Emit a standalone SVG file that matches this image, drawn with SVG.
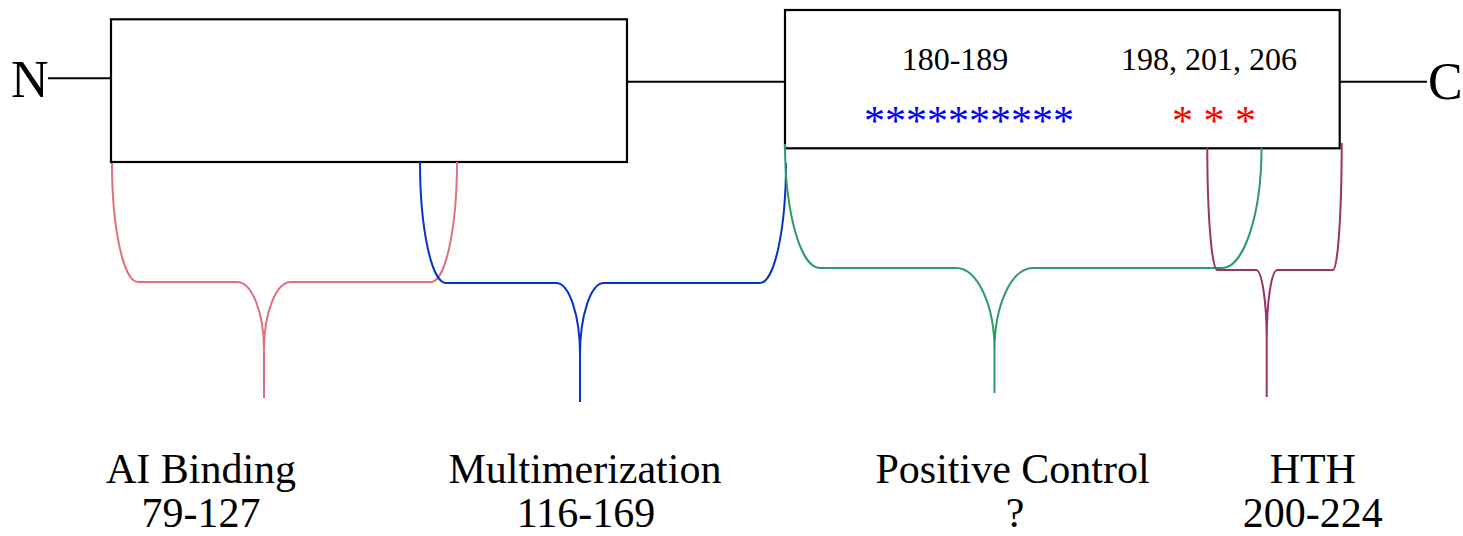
<svg xmlns="http://www.w3.org/2000/svg" width="1463" height="536" viewBox="0 0 1463 536">
  <style>
    .box { fill: #ffffff; stroke: #000000; stroke-width: 2.2; }
    .link { stroke: #000000; stroke-width: 2; fill: none; }
    .brace { fill: none; stroke-width: 2; stroke-linejoin: round; }
    .term { font-family: "Liberation Serif", "Times New Roman", serif; font-size: 52px; fill: #000000; }
    .pos { font-family: "Liberation Serif", "Times New Roman", serif; font-size: 32px; fill: #000000; text-anchor: middle; }
    .star { font-family: "Liberation Serif", "Times New Roman", serif; font-size: 42px; text-anchor: middle; }
    .label { font-family: "Liberation Serif", "Times New Roman", serif; font-size: 42px; fill: #000000; text-anchor: middle; }
  </style>

  <!-- backbone lines and termini -->
  <g id="backbone">
    <line class="link" x1="48" y1="78.3" x2="111" y2="78.3"/>
    <line class="link" x1="627" y1="81.7" x2="785" y2="81.7"/>
    <line class="link" x1="1339.7" y1="81.7" x2="1427" y2="81.7"/>
  </g>
  <g id="n-terminus">
    <text class="term" x="11" y="97">N</text>
  </g>
  <g id="c-terminus">
    <text class="term" x="1428" y="99">C</text>
  </g>

  <!-- N-terminal domain -->
  <g id="domain-n">
    <rect class="box" x="111" y="19.3" width="516" height="142.7"/>
  </g>

  <!-- C-terminal domain with marked residues -->
  <g id="domain-c">
    <rect class="box" x="785" y="10" width="554.7" height="138.3"/>
    <text class="pos" x="955" y="70">180-189</text>
    <text class="pos" x="1209" y="70">198, 201, 206</text>
    <text class="star" x="969" y="135" fill="#0000ff">**********</text>
    <text class="star" x="1214" y="135" fill="#ff0000" xml:space="preserve">* * *</text>
  </g>

  <!-- braces marking functional regions -->
  <g id="connectors">
    <path id="brace-ai" class="brace" stroke="#e0707f"
      d="M112 163 A26 119 0 0 0 138 282 L237 282 A27 68 0 0 1 264 350 L264 398
         M264 350 A27 68 0 0 1 291 282 L431 282 A26 120 0 0 0 457 162"/>
    <path id="brace-multi" class="brace" stroke="#0a32c4"
      d="M420 162 A26 121 0 0 0 446 283 L556 283 A24 72 0 0 1 580 355 L580 402
         M580 355 A24 72 0 0 1 604 283 L760 283 A26 120 0 0 0 786 163"/>
    <path id="brace-pos" class="brace" stroke="#2e9a68"
      d="M785 144 A35 124 0 0 0 820 268 L956 268 A38.5 82 0 0 1 994.5 350 L994.5 393
         M994.5 350 A38.5 82 0 0 1 1033 268 L1222 268 A39.5 120 0 0 0 1261.5 148"/>
    <path id="brace-hth" class="brace" stroke="#9b3366"
      d="M1207.3 148 A10 122 0 0 0 1217.3 270 L1256 270 A10.7 70 0 0 1 1266.7 340 L1266.7 397
         M1266.7 340 A10.7 70 0 0 1 1277.3 270 L1333 270 A8.7 127 0 0 0 1341.7 143"/>
  </g>

  <!-- region labels -->
  <g id="label-ai">
    <text class="label" x="201" y="483">AI Binding</text>
    <text class="label" x="201" y="526.5">79-127</text>
  </g>
  <g id="label-multi">
    <text class="label" x="585" y="483">Multimerization</text>
    <text class="label" x="586" y="526.5">116-169</text>
  </g>
  <g id="label-pos">
    <text class="label" x="1012.6" y="483">Positive Control</text>
    <text class="label" x="1015" y="526.5">?</text>
  </g>
  <g id="label-hth">
    <text class="label" x="1312.8" y="483">HTH</text>
    <text class="label" x="1312.8" y="526.5">200-224</text>
  </g>
</svg>
